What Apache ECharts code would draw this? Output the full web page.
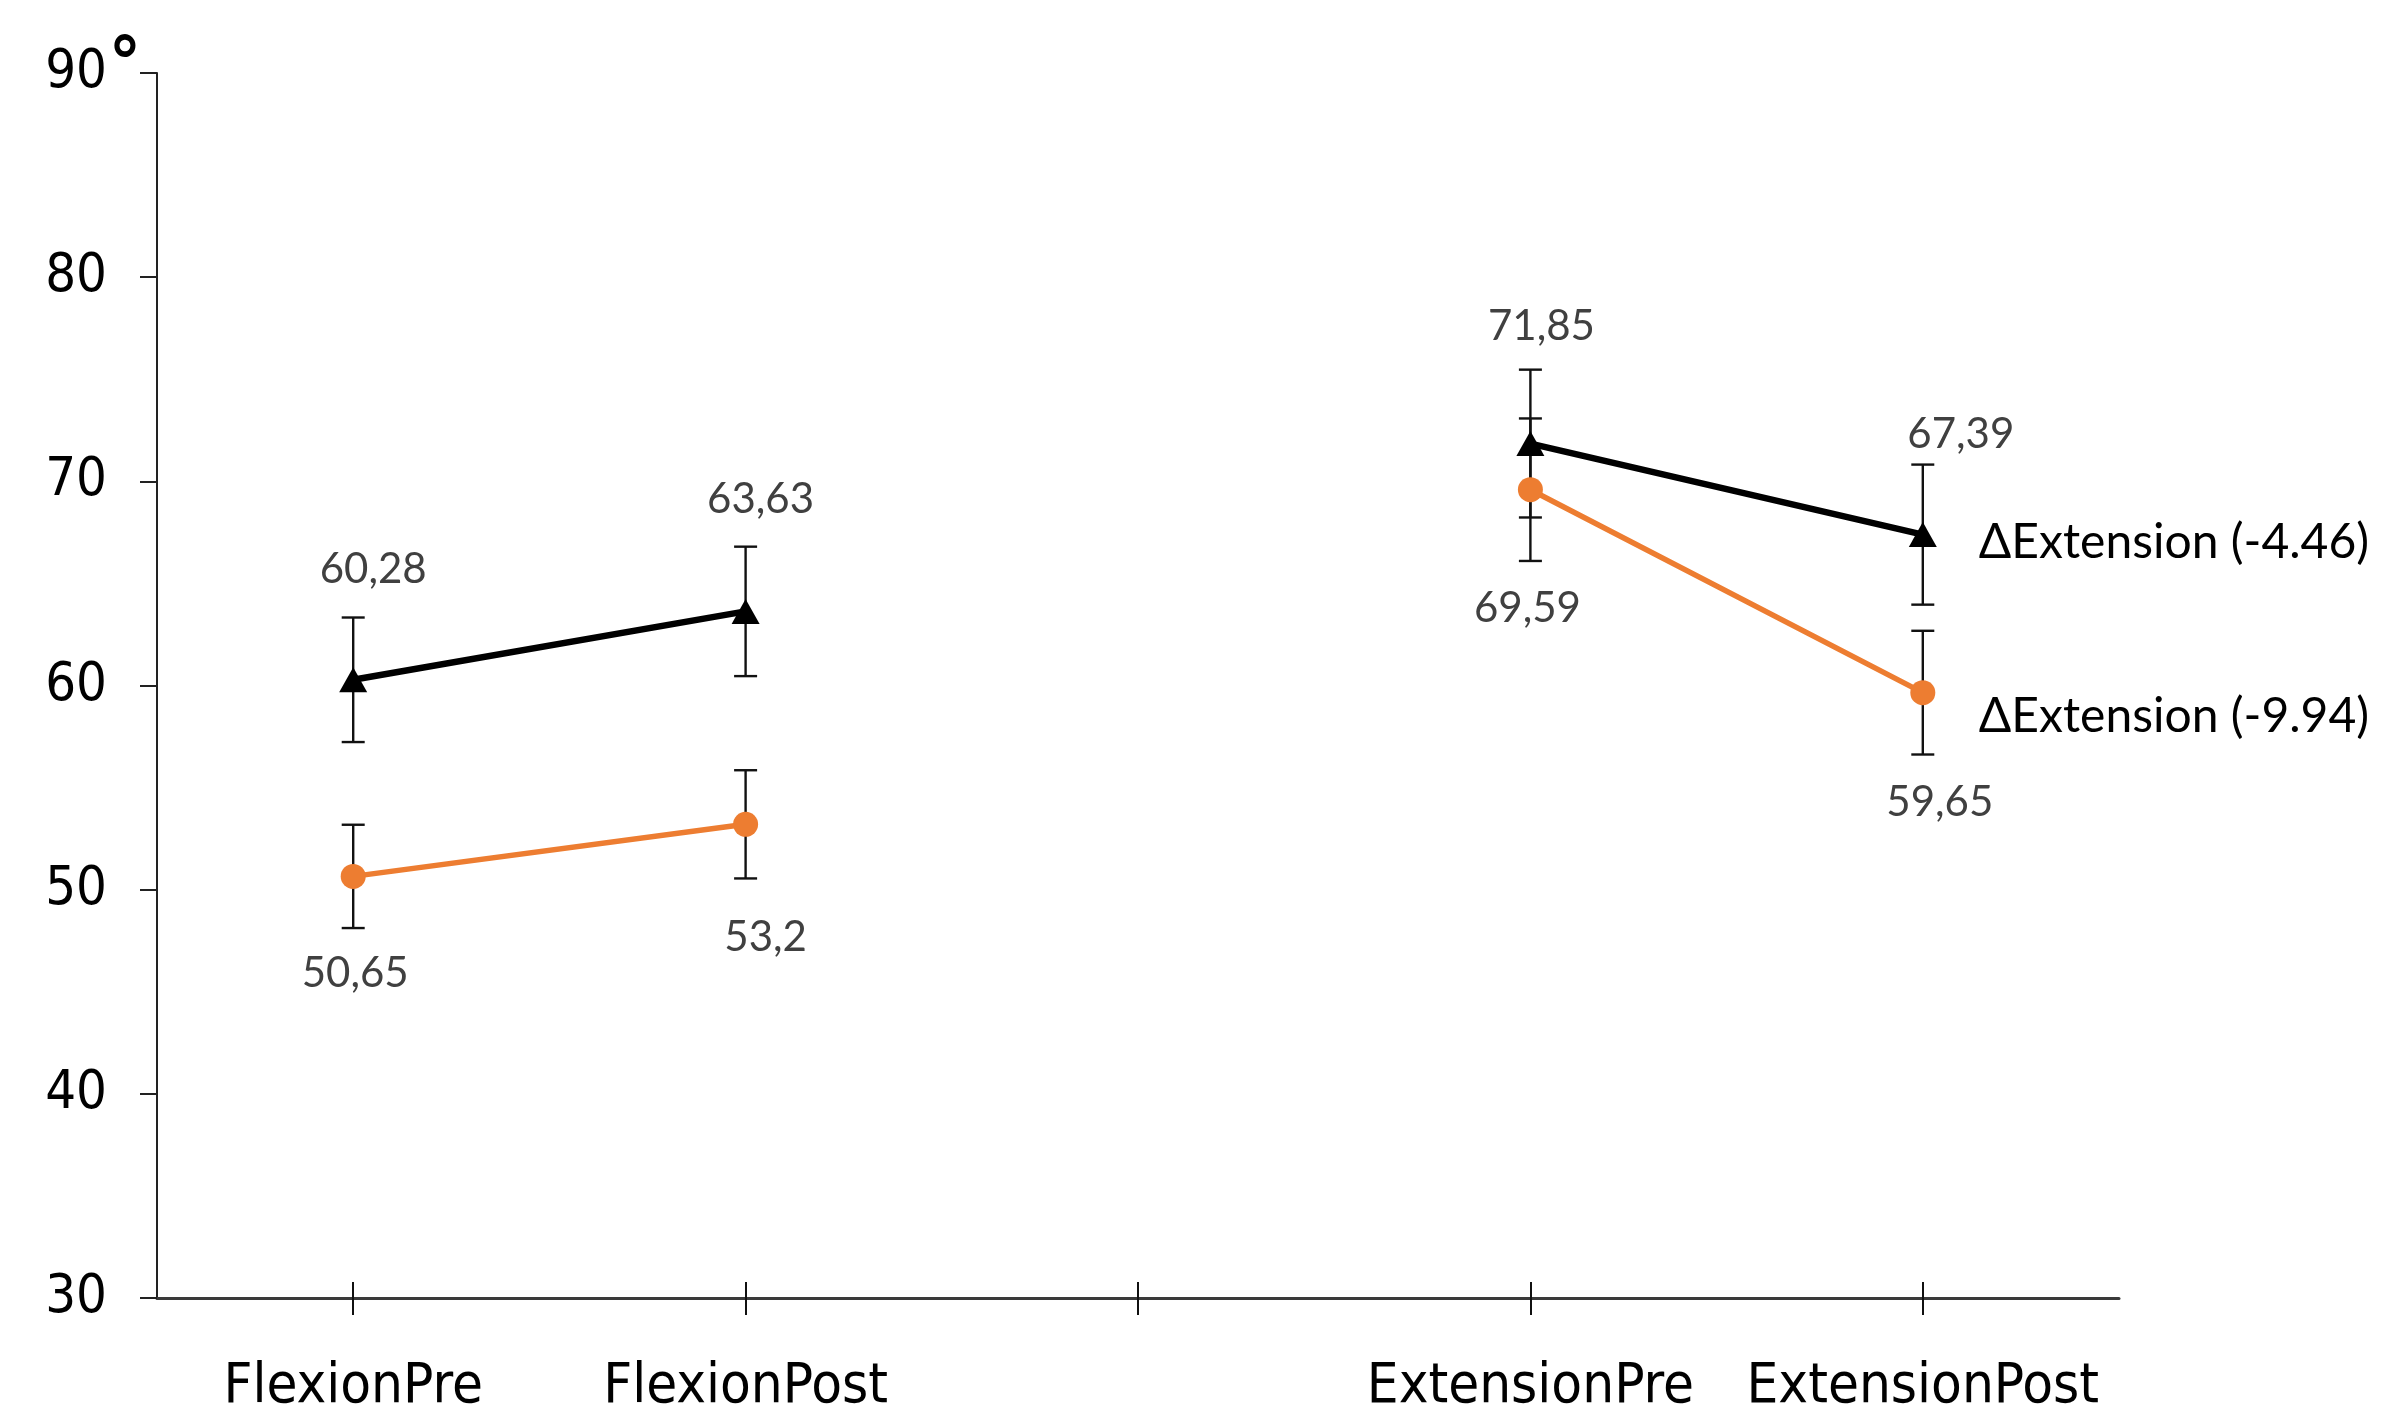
<!DOCTYPE html>
<html>
<head>
<meta charset="utf-8">
<script src="https://cdn.jsdelivr.net/npm/echarts@6/dist/echarts.min.js"></script>
<style>
html,body{margin:0;padding:0;background:#fff;}
#chart{width:2387px;height:1415px;}
</style>
</head>
<body>
<div id="chart"></div>
<script>
// ---- data ----
const categories = ['FlexionPre', 'FlexionPost', '', 'ExtensionPre', 'ExtensionPost'];
const groupA = [60.28, 63.63, null, 71.85, 67.39];   // black triangles
const groupB = [50.65, 53.2, null, 69.59, 59.65];    // orange circles
const groupA_sd = [3.05, 3.17, null, 3.62, 3.43];
const groupB_sd = [2.53, 2.65, null, 3.49, 3.03];
const yTicks = { min: 30, max: 90, step: 10 };
const endNotes = ['\u0394Extension (-4.46)', '\u0394Extension (-9.94)'];

// ---- styling helpers (not data) ----
const labelNudgeA = [[20, -110], [15, -112], [11, -117], [38, -100]];
const labelNudgeB = [[2, 97], [20, 113], [-3, 119], [17, 110]];

function fmt(v) { return String(v).replace('.', ','); }

function seriesData(vals, nudges) {
  let k = 0;
  return vals.map(function (v) {
    if (v === null) return null;
    const n = nudges[k++];
    return { value: v, label: { offset: n } };
  });
}

function errData(vals, sds) {
  const out = [];
  vals.forEach(function (v, i) {
    if (v !== null) out.push([i, v - sds[i], v + sds[i]]);
  });
  return out;
}

function errRender(color) {
  return function (params, api) {
    const x = api.value(0);
    const lo = api.coord([x, api.value(1)]);
    const hi = api.coord([x, api.value(2)]);
    const w = 11.5;
    const st = { stroke: color, lineWidth: 2.4 };
    return {
      type: 'group',
      children: [
        { type: 'line', shape: { x1: lo[0], y1: lo[1], x2: hi[0], y2: hi[1] }, style: st },
        { type: 'line', shape: { x1: lo[0] - w, y1: lo[1], x2: lo[0] + w, y2: lo[1] }, style: st },
        { type: 'line', shape: { x1: hi[0] - w, y1: hi[1], x2: hi[0] + w, y2: hi[1] }, style: st }
      ]
    };
  };
}

const axisFont = "'DejaVu Sans Condensed', 'DejaVu Sans', sans-serif";
const labelFont = "Lato, 'Open Sans', sans-serif";

const chart = echarts.init(document.getElementById('chart'), null, { renderer: 'canvas' });
chart.setOption({
  animation: false,
  backgroundColor: '#ffffff',
  grid: { left: 157, right: 268, top: 73, bottom: 110, containLabel: false },
  xAxis: [{
    type: 'category',
    data: categories,
    boundaryGap: true,
    axisLine: { show: true, lineStyle: { color: '#3a3a3a', width: 3 } },
    axisTick: { show: true, alignWithLabel: true, interval: 0, length: 17, lineStyle: { color: '#111', width: 2 } },
    axisLabel: { show: true, interval: 0, margin: 61, color: '#000', fontFamily: axisFont, fontSize: 56 },
    splitLine: { show: false }
  }, {
    type: 'category',
    data: categories,
    position: 'bottom',
    boundaryGap: true,
    axisLine: { show: false },
    axisTick: { show: true, inside: true, alignWithLabel: true, interval: 0, length: 16, lineStyle: { color: '#111', width: 2 } },
    axisLabel: { show: false },
    splitLine: { show: false }
  }],
  yAxis: {
    type: 'value',
    min: yTicks.min,
    max: yTicks.max,
    interval: yTicks.step,
    axisLine: { show: true, lineStyle: { color: '#222', width: 2 } },
    axisTick: { show: true, inside: false, length: 17, lineStyle: { color: '#222', width: 2 } },
    axisLabel: { show: true, margin: 50, color: '#000', fontFamily: axisFont, fontSize: 54 },
    splitLine: { show: false }
  },
  graphic: [{
    type: 'text',
    x: 125,
    y: 68,
    style: {
      text: '\u00b0', font: "bold 72px " + axisFont, fill: '#000',
      textAlign: 'center', textVerticalAlign: 'middle'
    }
  }],
  series: [
    {
      type: 'custom',
      name: 'errA',
      renderItem: errRender('#111'),
      data: errData(groupA, groupA_sd),
      encode: { x: 0, y: [1, 2] },
      z: 1,
      silent: true
    },
    {
      type: 'custom',
      name: 'errB',
      renderItem: errRender('#111'),
      data: errData(groupB, groupB_sd),
      encode: { x: 0, y: [1, 2] },
      z: 1,
      silent: true
    },
    {
      type: 'line',
      name: 'A',
      data: seriesData(groupA, labelNudgeA),
      connectNulls: false,
      symbol: 'triangle',
      symbolSize: [28, 25],
      lineStyle: { color: '#000', width: 6.5 },
      itemStyle: { color: '#000' },
      label: {
        show: true, position: 'inside', color: '#404040',
        fontFamily: labelFont, fontSize: 42,
        formatter: function (p) { return fmt(p.value); }
      },
      endLabel: {
        show: true, distance: 56, offset: [0, 8], color: '#000',
        fontFamily: labelFont, fontSize: 48,
        formatter: function () { return endNotes[0]; }
      },
      z: 3
    },
    {
      type: 'line',
      name: 'B',
      data: seriesData(groupB, labelNudgeB),
      connectNulls: false,
      symbol: 'circle',
      symbolSize: 25,
      lineStyle: { color: '#ED7D31', width: 5.5 },
      itemStyle: { color: '#ED7D31' },
      label: {
        show: true, position: 'inside', color: '#404040',
        fontFamily: labelFont, fontSize: 42,
        formatter: function (p) { return fmt(p.value); }
      },
      endLabel: {
        show: true, distance: 56, offset: [0, 24], color: '#000',
        fontFamily: labelFont, fontSize: 48,
        formatter: function () { return endNotes[1]; }
      },
      z: 3
    }
  ]
});
</script>
</body>
</html>
